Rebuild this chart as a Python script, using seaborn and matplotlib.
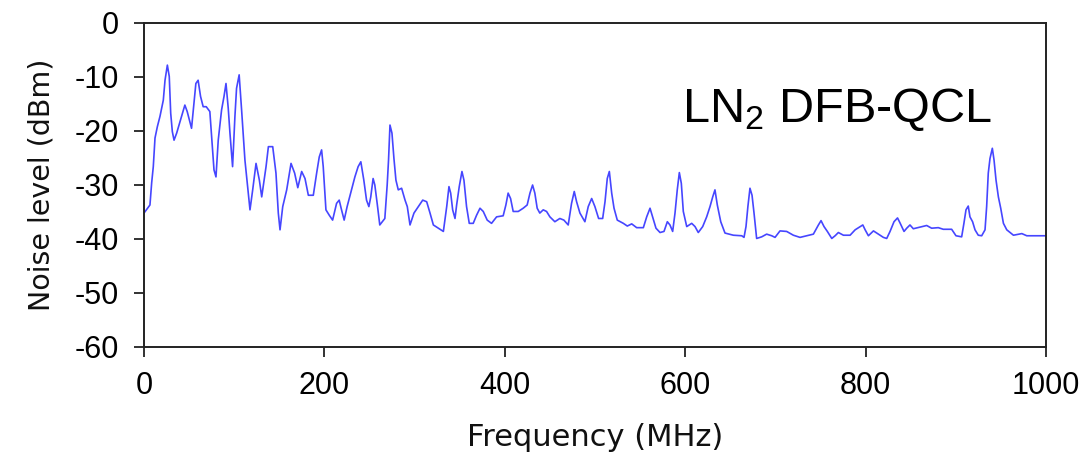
import matplotlib
matplotlib.use("Agg")
import matplotlib.pyplot as plt
import seaborn as sns
import pandas as pd

freq_mhz = [0, 6.6, 8.5, 10.3, 12.2, 14.8, 17.7, 21.4, 23.3, 25.9, 28, 29.6, 31.4, 33.3, 36.2, 39.9,
            42.8, 45.3, 47.9, 52.7, 55.4, 57.5, 60, 62.7, 65.6, 69, 73, 76, 77.6, 79.8, 82.3, 86,
            88.7, 90.9, 93.4, 95.3, 98.2, 100.8, 102.6, 105.5, 108.2, 111.9, 114.5, 117.5, 120.5,
            124.2, 127.9, 130.5, 135.3, 137.9, 142.7, 146.3, 148.9, 150.8, 153.8, 158.2, 163, 167,
            170.5, 174.8, 178.5, 182.2, 187.7, 191.4, 194.3, 196.9, 198.7, 201.7, 205.4, 209.1,
            213.5, 216.4, 219, 221.9, 225.2, 230.1, 233.8, 237.4, 240.4, 243.7, 246.7, 249.3,
            251.4, 254, 255.9, 258.5, 261.4, 267, 269.6, 271.1, 272.7, 274.9, 277.1, 279.3, 281.9,
            285.6, 289.4, 291.9, 294.9, 299.3, 304.1, 309, 313.4, 317.1, 320.8, 326.3, 331.9,
            335.6, 338.1, 340, 342.2, 344.8, 346.6, 349.5, 352.5, 354.7, 357.6, 360.6, 365, 368.7,
            372.5, 376.1, 380.5, 385.3, 390.9, 398.2, 401.2, 403.7, 406.4, 409.3, 414.9, 420.4,
            424.8, 427.9, 430.8, 433.3, 435.9, 438.8, 442.6, 446.3, 450, 455.5, 461, 465.5, 470.3,
            474, 477, 479.6, 483.3, 488.8, 492.5, 496.3, 499.9, 504, 508.5, 511.1, 513.6, 515.9,
            518.5, 521.1, 524.7, 531.4, 535.8, 540.7, 546.2, 553.6, 557.3, 561, 563.9, 567.6,
            572.1, 576.5, 580.2, 583.1, 586.1, 588.7, 591.2, 593.5, 595.7, 597.9, 601.7, 607.2,
            610.9, 614.5, 619.4, 623.8, 627.5, 630.5, 633, 635.6, 639.4, 644.1, 653.4, 662.7,
            665.2, 667.4, 669.5, 671.8, 674.1, 676.3, 679.2, 684.8, 690.3, 695.9, 699.6, 705.1,
            712.5, 719.9, 727.3, 734.7, 742.1, 747.7, 750.6, 753.9, 757.6, 762.5, 766.2, 769.8,
            775.4, 782.8, 788.4, 793.1, 796.9, 799.5, 803.1, 808.7, 814.2, 819.7, 823.4, 827.1,
            831.5, 835.4, 838.1, 842.6, 845.6, 849.2, 852.9, 860.3, 867.7, 873.2, 880.6, 886.1,
            895.4, 900.2, 906.5, 909, 911.3, 913.8, 915.7, 918.6, 921.3, 924.9, 928.7, 932.4,
            934.2, 936, 937.9, 940.5, 942.4, 944.6, 947.2, 949.8, 952.8, 956.5, 963.9, 973.2,
            978.7, 1000]

noise_dbm = [-35.2, -33.7, -29.6, -26.6, -21.3, -19.2, -17.3, -14.3, -10.6, -7.8, -9.9, -16.7, -20.1,
             -21.7, -20.4, -18.3, -16.7, -15.2, -16.4, -19.5, -14.9, -11.2, -10.6, -13.6, -15.5,
             -15.5, -16.4, -23.5, -27.2, -28.5, -21.7, -16.1, -13.6, -11.2, -15.8, -20.4, -26.6,
             -17.3, -12.1, -9.6, -16.1, -25.4, -29.7, -34.6, -30.9, -26, -29.1, -32.2, -26.6,
             -22.9, -22.9, -27.8, -35.2, -38.3, -34, -30.9, -26, -27.8, -30.5, -27.5, -28.8,
             -31.9, -31.9, -27.8, -24.8, -23.5, -26.6, -34.6, -35.6, -36.5, -33.4, -32.8, -34.6,
             -36.5, -34, -30.9, -28.5, -26.6, -25.7, -29.1, -32.8, -34, -32.2, -28.8, -30, -33.4,
             -37.4, -36.2, -30, -25.4, -18.9, -20.4, -25.1, -29.1, -30.9, -30.6, -32.8, -34,
             -37.4, -35.2, -34, -32.8, -33.1, -35.2, -37.4, -38, -38.6, -34, -30.3, -31.5, -34.6,
             -36.2, -33.7, -30.3, -27.5, -29.1, -34, -37.1, -37.1, -35.6, -34.3, -34.9, -36.5,
             -37.1, -35.9, -35.7, -33.7, -31.5, -32.5, -34.9, -34.9, -34.3, -33.7, -31.5, -30,
             -31.5, -34.3, -35.2, -34.6, -34.9, -35.9, -36.8, -36.2, -36.5, -37.4, -33.4, -31.2,
             -33.1, -35.2, -36.8, -34, -32.5, -34, -36.2, -36.2, -33.1, -28.8, -27.5, -31.5,
             -34.3, -36.5, -37.1, -37.6, -37.2, -37.9, -37.9, -35.9, -34.3, -35.9, -38, -38.8,
             -38.6, -36.8, -37.4, -38.6, -35.2, -30.9, -27.7, -29.7, -34.9, -37.7, -37.1, -37.7,
             -38.8, -37.7, -35.9, -34, -32.2, -30.9, -33.7, -36.8, -38.9, -39.3, -39.4, -39.7,
             -37.7, -34, -30.6, -31.9, -35.2, -39.9, -39.6, -39.1, -39.4, -39.7, -38.5, -38.6,
             -39.3, -39.7, -39.4, -39.1, -37.4, -36.6, -37.7, -38.6, -39.9, -39.4, -38.8, -39.3,
             -39.3, -38.3, -37.8, -37.4, -38.3, -39.4, -38.5, -39.1, -39.7, -39.9, -38.6, -36.8,
             -36.1, -37, -38.6, -38, -37.4, -38.1, -37.8, -37.5, -38, -37.9, -38.2, -38.2, -39.4,
             -39.6, -37.1, -34.6, -33.9, -35.9, -36.8, -38.3, -39.3, -39.4, -38.3, -34, -27.8,
             -25.1, -23.2, -25.4, -29.1, -32.2, -34.3, -37.1, -38.3, -39.3, -39, -39.4, -39.4]

x_ticks = [0, 200, 400, 600, 800, 1000]
y_ticks = [0, -10, -20, -30, -40, -50, -60]
x_label = "Frequency (MHz)"
y_label = "Noise level (dBm)"
annotation = "LN$_2$ DFB-QCL"

sns.set_style("ticks")
plt.rcParams["font.family"] = ["Liberation Sans", "DejaVu Sans"]
plt.rcParams["mathtext.default"] = "regular"

df = pd.DataFrame({"freq": freq_mhz, "noise": noise_dbm})

fig = plt.figure(figsize=(10.88, 4.61), dpi=100)
ax = fig.add_axes([144 / 1088, 1 - 347 / 461, (1046 - 144) / 1088, (347 - 23) / 461])
sns.lineplot(data=df, x="freq", y="noise", ax=ax, color="#4646ff", linewidth=1.2)

ax.set_xlim(0, 1000)
ax.set_ylim(-60, 0)
ax.set_xticks(x_ticks)
ax.set_yticks(y_ticks)
ax.set_xticklabels([str(t) for t in x_ticks])
ax.set_yticklabels([str(t) for t in y_ticks])
ax.tick_params(axis="both", direction="out", length=7, width=1.3, color="#222222",
               labelsize=22, labelcolor="black")
ax.tick_params(axis="y", pad=11)
ax.tick_params(axis="x", pad=10)
for s in ax.spines.values():
    s.set_visible(True)
    s.set_color("#222222")
    s.set_linewidth(1.4)

ax.set_xlabel(x_label, fontsize=22, family=["DejaVu Sans"], labelpad=16, color="#111111")
ax.set_ylabel(y_label, fontsize=20.5, family=["DejaVu Sans"], labelpad=14, color="#111111")

ax.text(596, -18.3, annotation, fontsize=35, ha="left", va="baseline", color="black")

fig.savefig("out.png", dpi=100)
